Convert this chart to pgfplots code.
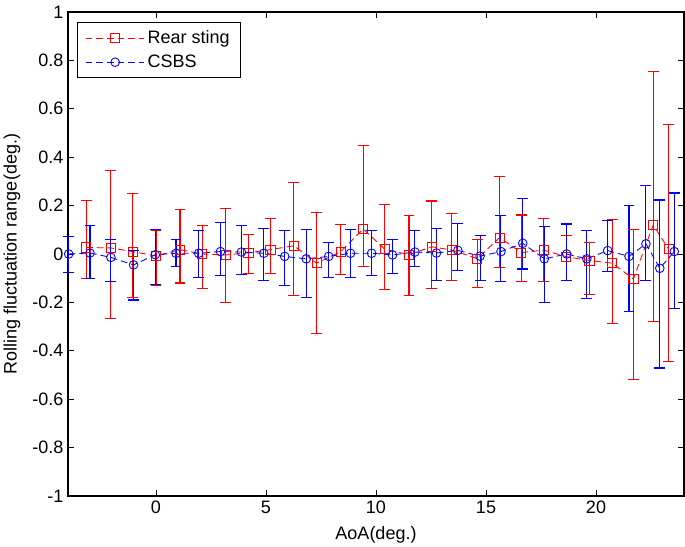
\documentclass[border=0pt]{standalone}
\usepackage{fontspec}
\setmainfont{Liberation Sans}
\usepackage{pgfplots}
\pgfplotsset{compat=1.18}
\pgfplotsset{
  ebar/.style={#1, solid, line width=0.8pt, forget plot, unbounded coords=jump,
    mark=-, mark size=4.1pt, mark options={solid, #1, line width=0.8pt}},
}

\begin{document}
\begin{tikzpicture}[font=\fontsize{13.5}{16}\selectfont]
\begin{axis}[
  scale only axis, width=462pt, height=363pt,
  xmin=-4, xmax=24, ymin=-1, ymax=1,
  xtick={0,5,10,15,20}, xticklabels={0,5,10,15,20},
  ytick={-1,-0.8,-0.6,-0.4,-0.2,0,0.2,0.4,0.6,0.8,1},
  yticklabels={-1,-0.8,-0.6,-0.4,-0.2,0,0.2,0.4,0.6,0.8,1},
  tick align=inside, major tick length=4.5pt,
  axis line style={line width=0.8pt}, tick style={line width=0.6pt, black},
  xlabel={AoA(deg.)}, ylabel={Rolling fluctuation range(deg.)},
  xlabel style={at={(axis description cs:0.5,-0.08)}, anchor=center},
  ylabel style={at={(axis description cs:-0.091,0.5)}, anchor=center},
  clip=false,
  legend style={at={(axis description cs:0.0146,0.979)}, anchor=north west,
    draw=black, line width=0.6pt, inner xsep=6pt, inner ysep=4pt,
    row sep=3pt, legend cell align=left},
  legend image code/.code={
    \draw[mark repeat=2, mark phase=2] plot coordinates {(0pt,0pt) (22pt,0pt) (44pt,0pt)};
  },
]
% Rear sting: error bar ends (lower, upper) for each point
\addplot[ebar=red] table{
x y
-3.17 -0.100
-3.17 0.220
nan nan
-2.05 -0.268
-2.05 0.346
nan nan
-1.06 -0.180
-1.06 0.250
nan nan
0.00 -0.130
0.00 0.096
nan nan
1.09 -0.120
1.09 0.184
nan nan
2.10 -0.144
2.10 0.117
nan nan
3.17 -0.200
3.17 0.188
nan nan
4.20 -0.082
4.20 0.082
nan nan
5.20 -0.080
5.20 0.147
nan nan
6.27 -0.172
6.27 0.294
nan nan
7.30 -0.330
7.30 0.172
nan nan
8.40 -0.085
8.40 0.120
nan nan
9.42 -0.050
9.42 0.450
nan nan
10.40 -0.148
10.40 0.206
nan nan
11.50 -0.172
11.50 0.160
nan nan
12.53 -0.143
12.53 0.219
nan nan
13.45 -0.110
13.45 0.167
nan nan
14.60 -0.137
14.60 0.060
nan nan
15.62 -0.056
15.62 0.319
nan nan
16.60 -0.112
16.60 0.161
nan nan
17.62 -0.112
17.62 0.147
nan nan
18.65 -0.111
18.65 0.078
nan nan
19.70 -0.168
19.70 0.048
nan nan
20.74 -0.289
20.74 0.142
nan nan
21.70 -0.520
21.70 0.101
nan nan
22.60 -0.279
22.60 0.756
nan nan
23.30 -0.443
23.30 0.536
};
\addplot[draw=red, line width=0.65pt, dash pattern=on 5pt off 3pt,
  mark=square, mark size=3.4pt, mark options={solid, draw=red, line width=0.65pt}]
table{
x y
-3.17 0.027
-2.05 0.025
-1.06 0.010
0.00 -0.008
1.09 0.018
2.10 0.000
3.17 -0.004
4.20 0.005
5.20 0.018
6.27 0.034
7.30 -0.038
8.40 0.010
9.42 0.103
10.40 0.020
11.50 -0.003
12.53 0.030
13.45 0.016
14.60 -0.019
15.62 0.068
16.60 0.006
17.62 0.016
18.65 -0.011
19.70 -0.027
20.74 -0.038
21.70 -0.103
22.60 0.120
23.30 0.020
};
\addlegendentry{Rear sting}
% CSBS: error bar ends (lower, upper) for each point
\addplot[ebar=blue] table{
x y
-3.97 -0.076
-3.97 0.073
nan nan
-3.00 -0.100
-3.00 0.117
nan nan
-2.05 -0.115
-2.05 0.060
nan nan
-1.02 -0.190
-1.02 0.015
nan nan
-0.03 -0.125
-0.03 0.100
nan nan
0.91 -0.050
0.91 0.060
nan nan
1.94 -0.096
1.94 0.096
nan nan
2.93 -0.090
2.93 0.130
nan nan
3.88 -0.085
3.88 0.117
nan nan
4.90 -0.110
4.90 0.106
nan nan
5.85 -0.132
5.85 0.096
nan nan
6.83 -0.179
6.83 0.100
nan nan
7.85 -0.096
7.85 0.048
nan nan
8.84 -0.096
8.84 0.100
nan nan
9.80 -0.090
9.80 0.096
nan nan
10.75 -0.080
10.75 0.060
nan nan
11.77 -0.050
11.77 0.096
nan nan
12.75 -0.110
12.75 0.106
nan nan
13.72 -0.068
13.72 0.125
nan nan
14.73 -0.110
14.73 0.076
nan nan
15.68 -0.114
15.68 0.158
nan nan
16.67 -0.062
16.67 0.230
nan nan
17.65 -0.202
17.65 0.113
nan nan
18.67 -0.111
18.67 0.124
nan nan
19.58 -0.183
19.58 0.096
nan nan
20.53 -0.072
20.53 0.137
nan nan
21.50 -0.238
21.50 0.200
nan nan
22.27 -0.108
22.27 0.283
nan nan
22.90 -0.471
22.90 0.223
nan nan
23.56 -0.227
23.56 0.252
};
\addplot[draw=blue, line width=0.65pt, dash pattern=on 5pt off 3pt,
  mark=o, mark size=3.25pt, mark options={solid, draw=blue, line width=0.65pt}]
table{
x y
-3.97 0.000
-3.00 0.004
-2.05 -0.014
-1.02 -0.045
-0.03 -0.003
0.91 0.003
1.94 0.003
2.93 0.010
3.88 0.008
4.90 0.003
5.85 -0.010
6.83 -0.020
7.85 -0.010
8.84 0.003
9.80 0.003
10.75 -0.004
11.77 0.008
12.75 0.004
13.72 0.015
14.73 -0.009
15.68 0.010
16.67 0.044
17.65 -0.020
18.67 0.000
19.58 -0.020
20.53 0.014
21.50 -0.010
22.27 0.042
22.90 -0.059
23.56 0.010
};
\addlegendentry{CSBS}
\end{axis}
\pgfresetboundingbox
\path (current axis.south west) ++(-51pt,-38.25pt) coordinate (bl);
\path (current axis.north east) ++(0.75pt,9pt) coordinate (tr);
\path[use as bounding box] (bl) rectangle (tr);
\end{tikzpicture}
\end{document}
